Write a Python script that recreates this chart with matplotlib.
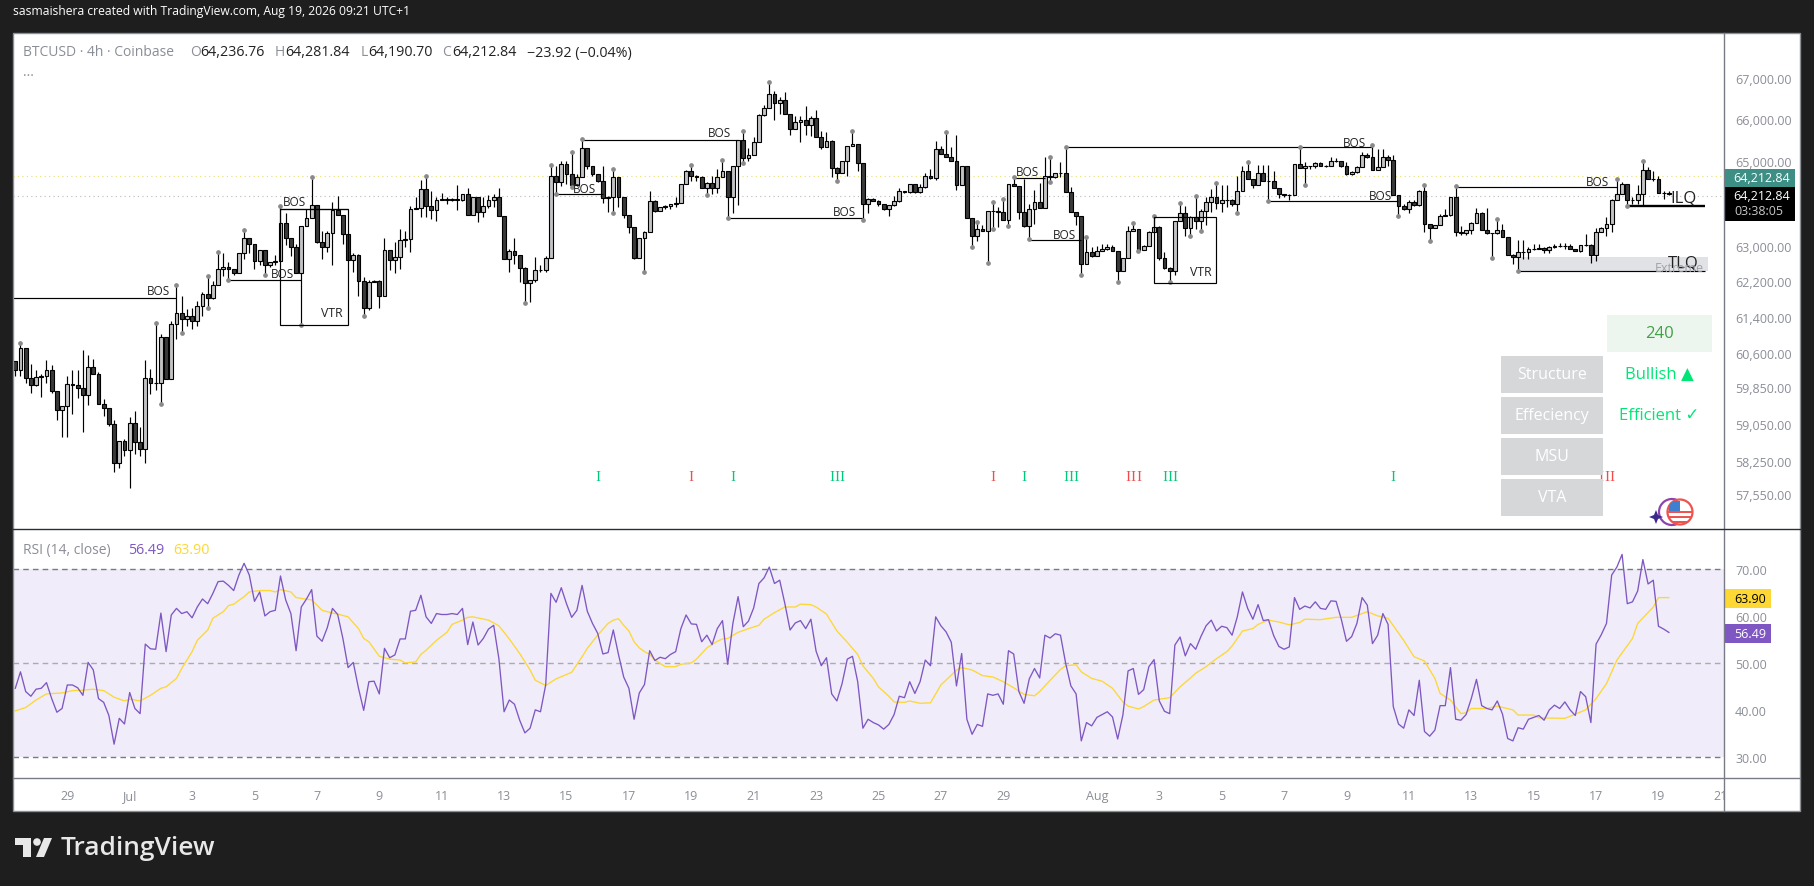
import matplotlib
matplotlib.use("Agg")
import matplotlib.pyplot as plt
from matplotlib.patches import Rectangle, Circle, Polygon, Arc

# 4h candles
first_open = 60420
closes = [
    60215, 60700, 60045, 59885, 60070, 60090, 60220, 59760, 59340, 59435,
    59905, 59900, 59820, 59665, 60290, 60135, 59480, 59390, 59045, 58215,
    58675, 58475, 59065, 58655, 58505, 60045, 59935, 59940, 60950, 60020,
    61240, 61497, 61360, 61430, 61300, 61635, 61905, 61815, 62115, 62480,
    62520, 62480, 62390, 62840, 63195, 63050, 62665, 62910, 62570, 62640,
    62660, 63540, 63195, 62985, 62390, 63470, 63660, 63960, 63100, 62985,
    63310, 63845, 63720, 63285, 62695, 62800, 62205, 61590, 62180, 62205,
    61860, 62910, 62685, 62755, 63150, 63170, 63865, 63890, 64335, 63935,
    63845, 64090, 64100, 64090, 64095, 64090, 64215, 63730, 64150, 63800,
    63935, 64090, 64150, 63705, 62705, 62895, 62800, 62505, 62160, 62225,
    62455, 62450, 62735, 64645, 64500, 64935, 64680, 64425, 64630, 65320,
    64885, 64680, 64515, 64115, 64155, 64610, 64160, 63725, 63460, 62725,
    63185, 63340, 64065, 63830, 63920, 63930, 63985, 64020, 64465, 64750,
    64650, 64630, 64370, 64490, 64370, 64630, 64765, 64160, 64885, 65505,
    65060, 65145, 65455, 66090, 66260, 66600, 66380, 66470, 66115, 65755,
    65920, 65970, 65850, 66040, 65575, 65335, 65480, 64835, 64725, 65000,
    65360, 65410, 64960, 63975, 64105, 64045, 63975, 63880, 63960, 64065,
    64280, 64270, 64445, 64255, 64395, 64655, 64585, 65295, 65175, 65105,
    64995, 64435, 64875, 63655, 63240, 63410, 63355, 63820, 63825, 63805,
    63615, 64450, 64405, 63810, 63465, 63875, 64030, 63890, 64655, 64615,
    64710, 64715, 64265, 63810, 63700, 62600, 62865, 62780, 62895, 62935,
    62980, 62895, 62440, 62735, 63355, 63395, 62920, 63010, 63330, 63450,
    62735, 62505, 62440, 63590, 63775, 63430, 63680, 63590, 63820, 64030,
    64145, 64015, 64075, 64080, 63980, 64285, 64760, 64575, 64430, 64710,
    64525, 64525, 64360, 64215, 64185, 64200, 64925, 64830, 64875, 64880,
    64945, 64875, 64880, 64995, 65000, 64875, 64695, 64735, 64850, 65130,
    65090, 64795, 64865, 65105, 65015, 64185, 63935, 63865, 64030, 63960,
    64285, 63510, 63430, 63485, 63715, 63725, 64145, 63330, 63300, 63370,
    63540, 63775, 63380, 63310, 63300, 63380, 63215, 62795, 62755, 62870,
    62875, 62940, 62945, 62970, 62920, 62985, 63000, 63010, 63015, 62940,
    62895, 63025, 63030, 62795, 63330, 63425, 63520, 64090, 64210, 64445,
    64075, 64090, 64230, 64785, 64575, 64580, 64240, 64236.76, 64212.84,
]
highs = [
    60420, 60810, 60700, 60360, 60230, 60140, 60430, 60340, 59760, 59435,
    60090, 60230, 60210, 60670, 60560, 60470, 60165, 59595, 59390, 59130,
    58675, 58725, 59195, 59335, 58980, 60450, 60250, 61260, 61015, 60950,
    61305, 62121, 61860, 61575, 61610, 61750, 61970, 62335, 62200, 62880,
    62855, 62640, 62480, 62840, 63385, 63195, 63050, 62910, 62910, 62640,
    62795, 63930, 63775, 63195, 63065, 63470, 63875, 64630, 63960, 63350,
    63350, 64030, 64170, 63720, 63285, 62855, 62830, 62310, 62235, 62235,
    62235, 63195, 62910, 63100, 63410, 63365, 63950, 64150, 64540, 64635,
    64300, 64150, 64250, 64150, 64125, 64435, 64225, 64360, 64150, 64150,
    64150, 64185, 64225, 64365, 63705, 62950, 63195, 62800, 62525, 62225,
    62755, 62565, 62780, 64905, 64890, 65000, 65000, 65215, 64685, 65520,
    65320, 64890, 64665, 64885, 64180, 64820, 64630, 64160, 63725, 63460,
    63185, 63360, 64300, 64080, 63920, 63960, 63985, 64160, 64465, 64780,
    64900, 64665, 64650, 64505, 64650, 64805, 65025, 64765, 64885, 65505,
    65720, 65320, 65560, 66120, 66340, 66895, 66690, 66525, 66650, 66115,
    66065, 66080, 66325, 66080, 66230, 65720, 65695, 65495, 64860, 65000,
    65360, 65720, 65410, 64960, 64135, 64135, 64085, 63980, 63960, 64180,
    64350, 64295, 64450, 64465, 64450, 64725, 64805, 65480, 65345, 65680,
    65325, 65620, 64875, 64875, 63655, 63565, 63485, 63820, 64030, 63915,
    64110, 64450, 64630, 64405, 64575, 63990, 64305, 64490, 65090, 65090,
    64710, 64970, 65325, 64380, 63810, 63700, 63220, 62985, 63010, 63065,
    63065, 63025, 62895, 62735, 63470, 63550, 63410, 63040, 63350, 63705,
    63470, 62870, 62530, 63590, 64015, 63935, 63705, 64165, 63875, 64145,
    64345, 64475, 64420, 64440, 64105, 64655, 64875, 64970, 64575, 64915,
    64915, 64915, 64750, 64360, 64215, 64215, 64925, 65325, 64970, 64880,
    64970, 64970, 64905, 65090, 65065, 64995, 64970, 64750, 64875, 65210,
    65190, 65390, 65285, 65285, 65130, 65130, 64185, 63990, 64070, 64070,
    64325, 64420, 63510, 63485, 63755, 63875, 64145, 64405, 63470, 63370,
    63565, 63890, 63795, 63890, 63300, 63630, 63525, 63215, 62835, 63140,
    63140, 62985, 63065, 63065, 62985, 63010, 63065, 63080, 63080, 63065,
    62950, 63040, 63295, 63065, 63425, 63450, 63680, 64105, 64575, 64495,
    64455, 64145, 64420, 64995, 64850, 64770, 64655, 64300, 64281.84,
]
lows = [
    60090, 60090, 59945, 59725, 59865, 59620, 59945, 59710, 59140, 58770,
    58770, 59255, 59615, 58865, 59450, 60135, 59480, 59225, 59000, 58015,
    58110, 58355, 57675, 58400, 58365, 58215, 59690, 59775, 59485, 60020,
    60020, 60900, 61030, 61195, 61120, 61195, 61420, 61590, 61800, 62115,
    62335, 62235, 62350, 62390, 62715, 62840, 62490, 62565, 62350, 62525,
    62565, 62665, 63025, 62780, 62390, 61210, 63470, 63660, 63080, 62715,
    62870, 62565, 63720, 63065, 62695, 62410, 61875, 61420, 61565, 62180,
    61600, 61860, 62450, 62385, 62475, 62985, 62870, 63865, 63680, 63680,
    63640, 63580, 64085, 63990, 64055, 63835, 64055, 63730, 63730, 63560,
    63680, 63890, 63915, 63705, 62705, 62425, 62600, 62180, 61715, 61725,
    62180, 62425, 62410, 62735, 64225, 64410, 64450, 64395, 64410, 64630,
    64805, 64650, 64505, 64000, 63805, 63765, 63905, 63670, 63305, 62710,
    62725, 62420, 63340, 63800, 63825, 63880, 63880, 63905, 64005, 64450,
    64520, 64530, 64370, 64190, 64215, 64240, 64630, 63655, 63785, 63965,
    64940, 65000, 65145, 65455, 66080, 66260, 65985, 66120, 66115, 65630,
    65755, 65455, 65615, 65600, 65575, 65280, 65335, 64610, 64520, 64725,
    64650, 65360, 64750, 63610, 63785, 64045, 63940, 63850, 63710, 63940,
    64035, 64240, 64240, 64240, 64240, 64370, 64565, 64545, 65160, 65105,
    64995, 64325, 64435, 63655, 62980, 63130, 63355, 62620, 63395, 63450,
    63610, 63470, 64405, 63625, 63450, 63170, 63525, 63890, 63890, 64495,
    64590, 64615, 64265, 63810, 63485, 62340, 62600, 62755, 62770, 62885,
    62925, 62885, 62190, 62440, 62735, 63350, 62885, 62920, 63010, 63330,
    62695, 62490, 62180, 62340, 63590, 63235, 63235, 63410, 63355, 63485,
    63810, 63875, 63810, 63915, 63935, 63780, 64285, 64575, 64360, 64420,
    64525, 64045, 64360, 64120, 64155, 64070, 64215, 64830, 64435, 64815,
    64830, 64875, 64860, 64875, 64970, 64850, 64670, 64670, 64720, 64850,
    65065, 64795, 64795, 64865, 64890, 64185, 63705, 63835, 63780, 63935,
    63935, 63330, 63125, 63425, 63485, 63700, 63700, 63235, 63270, 63270,
    63285, 63540, 63380, 63285, 62740, 63295, 63215, 62795, 62590, 62430,
    62720, 62705, 62915, 62935, 62860, 62845, 62970, 62985, 62950, 62935,
    62885, 62880, 63010, 62620, 62665, 63330, 63235, 63330, 64090, 64210,
    63950, 63990, 63990, 63950, 64575, 64535, 64240, 64105, 64190.70,
]

# bars with a swing dot on the high / on the low
swing_high_bars = [1, 27, 31, 37, 39, 44, 51, 57, 79, 103, 107, 109, 115, 130, 136, 140, 145,
                   161, 179, 185, 188, 190, 192, 199, 202, 206, 215, 219, 224, 227, 231, 237,
                   247, 261, 271, 277, 285, 308, 313]
swing_low_bars = [28, 32, 37, 41, 48, 55, 67, 98, 104, 107, 115, 121, 133, 137, 140, 158, 163,
                  184, 187, 188, 191, 195, 199, 205, 212, 216, 222, 226, 228, 235, 241, 248,
                  266, 272, 284, 289, 310]

# structure lines: start bar, end bar, price
line_starts = [-1, 41, 51, 109, 104, 137, 192, 195, 202, 241, 277]
line_ends = [31, 55, 64, 139, 113, 163, 198, 205, 261, 266, 308]
line_prices = [61820, 62234, 63860, 65505, 64215, 63655, 64605, 63155, 65325, 64055, 64380]

# BOS labels: bar, price
bos_bars = [27.6, 51.4, 53.6, 135.5, 109.5, 159.5, 194.7, 201.7, 257.6, 262.6, 304.3]
bos_prices = [61985, 62390, 64055, 65690, 64360, 63820, 64760, 63265, 65445, 64190, 64525]

# VTR boxes
vtr_left = [51, 219]
vtr_right = [64, 231]
vtr_top = [63860, 63680]
vtr_bottom = [61218, 62165]
vtr_label_bars = [60.9, 228]
vtr_label_prices = [61490, 62420]

ilq_start, ilq_end, ilq_price = 310, 325, 63950
tlq_start, tlq_end, tlq_price = 289, 325, 62438
extreme_top = 62767

signal_bars_green = [112, 138, 157, 158, 159, 194, 202, 203, 204, 221, 222, 223, 265]
signal_bars_red = [130, 188, 214, 215, 216, 305, 306, 307]
signal_price = 57920

last_price_dotted = 64165
other_dotted = 64640

price_ticks = [67000, 66000, 65000, 63000, 62200, 61400, 60600, 59850, 59050, 58250, 57550]
rsi_ticks = [70, 60, 50, 40, 30]
date_bars = [10, 22, 34, 46, 58, 70, 82, 94, 106, 118, 130, 142, 154, 166, 178, 190, 208, 220,
             232, 244, 256, 268, 280, 292, 304, 316, 328]
date_labels = ["29", "Jul", "3", "5", "7", "9", "11", "13", "15", "17", "19", "21", "23", "25",
               "27", "29", "Aug", "3", "5", "7", "9", "11", "13", "15", "17", "19", "21"]

rsi = [
    44.6, 48.1, 43.9, 42.9, 44.4, 44.6, 45.8, 42.4, 39.5, 40.3,
    45.3, 45.3, 44.7, 43.1, 50.1, 48.5, 42.4, 41.6, 38.8, 32.7,
    38.2, 37.0, 43.7, 40.3, 39.2, 54.0, 53.0, 52.9, 60.6, 52.4,
    60.2, 61.6, 60.5, 60.9, 59.6, 61.9, 63.6, 62.6, 64.8, 67.3,
    67.4, 66.5, 65.4, 68.7, 71.2, 68.7, 63.1, 65.1, 60.0, 60.9,
    61.2, 68.5, 63.4, 60.5, 52.6, 61.9, 63.6, 65.6, 55.7, 54.6,
    57.5, 61.6, 60.3, 55.2, 49.0, 50.1, 44.6, 39.9, 46.0, 46.1,
    43.4, 53.1, 51.1, 51.7, 55.1, 55.1, 61.0, 61.2, 64.4, 59.8,
    58.4, 60.5, 60.3, 60.3, 60.5, 60.3, 61.6, 53.9, 58.7, 53.8,
    55.2, 57.2, 58.0, 50.9, 39.6, 42.1, 41.2, 37.8, 35.1, 36.1,
    40.0, 39.6, 45.3, 64.8, 62.9, 66.0, 62.6, 59.7, 61.2, 66.5,
    61.0, 58.4, 56.3, 51.9, 52.2, 57.0, 51.8, 47.0, 44.6, 38.0,
    43.6, 45.4, 52.6, 50.5, 51.2, 50.9, 51.8, 52.4, 57.3, 60.2,
    58.3, 58.2, 54.5, 55.9, 53.9, 57.3, 59.0, 49.7, 58.4, 64.1,
    57.7, 58.9, 61.7, 66.9, 68.1, 70.4, 66.9, 67.6, 62.6, 57.0,
    58.5, 59.0, 57.3, 59.3, 52.5, 49.4, 51.1, 43.4, 41.9, 45.6,
    50.8, 51.4, 46.0, 36.1, 38.0, 37.3, 36.8, 35.9, 36.9, 39.0,
    42.9, 42.6, 46.0, 43.5, 46.0, 50.6, 49.4, 59.8, 57.9, 56.6,
    54.4, 45.1, 52.0, 38.0, 34.8, 36.9, 36.5, 43.4, 43.1, 43.4,
    41.2, 52.6, 51.9, 43.9, 41.4, 46.6, 48.8, 46.8, 55.9, 55.3,
    56.2, 55.9, 49.9, 45.1, 43.4, 33.4, 37.3, 36.6, 38.4, 39.0,
    39.6, 38.5, 33.8, 38.9, 48.3, 48.8, 43.3, 44.3, 49.2, 50.7,
    41.9, 39.7, 39.2, 53.8, 55.5, 51.5, 54.1, 52.9, 55.6, 57.9,
    59.1, 56.8, 57.8, 57.5, 55.9, 59.8, 65.1, 61.6, 59.3, 62.4,
    59.0, 59.2, 55.8, 53.5, 52.9, 53.4, 63.9, 61.4, 62.1, 61.7,
    63.0, 61.6, 61.4, 63.2, 63.1, 59.3, 54.6, 55.6, 58.4, 63.9,
    62.3, 54.1, 55.9, 60.5, 58.2, 40.7, 37.0, 36.1, 40.0, 38.8,
    46.3, 35.4, 34.4, 35.7, 40.9, 40.9, 49.0, 38.0, 37.8, 39.0,
    42.4, 46.5, 40.9, 40.3, 40.0, 41.9, 39.1, 33.9, 33.4, 36.2,
    35.9, 38.0, 38.4, 38.8, 37.8, 40.0, 41.0, 40.3, 41.7, 40.0,
    38.8, 43.9, 42.8, 37.3, 54.0, 56.0, 58.4, 68.7, 70.4, 73.1,
    62.6, 63.0, 65.3, 72.0, 66.8, 67.6, 57.8, 57.2, 56.49,
]

# yellow smoothing line, read at its visible vertices
rsi_ma_bars = [
    0, 2, 4, 6, 9, 11, 13, 15, 17, 19, 21, 22, 24, 26, 28, 29, 31, 32, 34, 35,
    37, 38, 40, 41, 42, 44, 45, 47, 49, 50, 51, 53, 54, 57, 59, 61, 62, 64, 66, 67,
    68, 70, 72, 74, 75, 77, 78, 79, 81, 83, 84, 86, 87, 88, 91, 93, 95, 97, 99, 100,
    102, 104, 107, 109, 110, 112, 114, 115, 116, 117, 118, 119, 120, 121, 122, 123, 124, 125, 127, 128,
    130, 131, 132, 133, 135, 136, 137, 139, 141, 143, 144, 146, 148, 150, 151, 153, 154, 156, 158, 160,
    162, 163, 165, 166, 168, 169, 171, 172, 174, 176, 177, 178, 180, 181, 182, 184, 186, 188, 190, 192,
    194, 196, 197, 199, 201, 202, 204, 205, 207, 209, 211, 213, 214, 216, 217, 219, 222, 224, 226, 227,
    229, 231, 233, 234, 236, 238, 239, 241, 243, 245, 247, 248, 251, 254, 257, 260, 262, 264, 267, 269,
    271, 273, 274, 276, 278, 279, 280, 283, 285, 288, 289, 292, 293, 298, 300, 302, 304, 306, 308, 311,
    312, 315, 316, 318,
]
rsi_ma = [
    39.8, 40.5, 42.1, 43.4, 43.6, 44.1, 44.2, 44.4, 44.1, 42.7, 41.9, 42.3, 41.9, 43.1, 44.6, 44.9, 46.7, 48.8, 52.4, 54.8,
    57.0, 59.5, 60.9, 62.2, 62.5, 64.1, 65.1, 65.4, 65.4, 65.1, 65.6, 65.1, 63.9, 63.4, 61.2, 60.6, 60.4, 59.8, 57.3, 55.2,
    54.5, 51.4, 50.8, 50.6, 50.0, 50.2, 51.8, 52.7, 54.8, 56.5, 58.2, 59.1, 59.7, 59.8, 59.1, 57.9, 55.1, 52.0, 48.5, 46.3,
    45.2, 46.6, 48.0, 51.3, 53.1, 55.9, 58.4, 59.1, 59.4, 58.0, 56.8, 54.5, 53.2, 52.4, 51.8, 50.6, 49.9, 49.2, 49.2, 49.7,
    50.0, 50.8, 52.0, 53.2, 54.6, 55.1, 55.2, 56.5, 57.3, 58.0, 59.3, 60.7, 61.9, 61.9, 62.5, 62.4, 61.9, 60.4, 56.8, 54.4,
    51.8, 49.4, 46.7, 44.9, 42.9, 41.7, 41.6, 41.9, 41.4, 41.5, 43.4, 45.3, 47.4, 48.5, 49.0, 48.5, 47.3, 47.0, 46.0, 44.7,
    43.3, 43.0, 43.9, 46.3, 48.6, 49.4, 49.6, 48.1, 46.7, 46.1, 44.6, 41.7, 40.8, 40.2, 40.7, 42.1, 42.6, 44.9, 46.8, 47.8,
    49.2, 50.9, 52.4, 53.6, 56.8, 57.3, 58.2, 59.1, 58.7, 58.1, 58.6, 59.3, 59.2, 59.7, 59.7, 60.9, 60.0, 59.5, 54.8, 51.3,
    50.4, 46.7, 43.5, 42.1, 39.2, 39.4, 40.3, 40.3, 40.8, 40.0, 38.9, 38.9, 38.3, 38.2, 39.1, 40.0, 42.4, 45.6, 50.6, 55.2,
    58.4, 61.9, 63.9, 63.90,
]

W, H = 1814, 887
FONT = "Open Sans"
plt.rcParams["font.family"] = FONT
BG = "#1e1e1e"
GRAY = "#8b8e97"
UP = "#c3c3c6"
DOWN = "#3a3a3a"
PURPLE = "#7e57c2"
YELLOW = "#fdd835"
TEAL = "#3d8f85"
GREEN = "#00e676"


def px_axes(left, top, right, bottom):
    return [left / W, 1 - bottom / H, (right - left) / W, (bottom - top) / H]


def draw_candles(ax):
    bars = list(range(len(closes)))
    opens = [first_open] + closes[:-1]
    ax.vlines(bars, lows, highs, color="black", lw=0.85, zorder=2)
    colors = [UP if c >= o else DOWN for o, c in zip(opens, closes)]
    heights = [abs(c - o) for o, c in zip(opens, closes)]
    bottoms = [min(o, c) for o, c in zip(opens, closes)]
    ax.bar(bars, heights, bottom=bottoms, width=0.74, color=colors, edgecolor="black",
           linewidth=0.8, zorder=3)
    ax.plot(swing_high_bars, [highs[b] for b in swing_high_bars], "o", ms=2.4, color="#8a8a8a", zorder=4)
    ax.plot(swing_low_bars, [lows[b] for b in swing_low_bars], "o", ms=2.4, color="#8a8a8a", zorder=4)


def draw_structure(ax):
    ax.hlines(line_prices, line_starts, line_ends, color="black", lw=0.85, zorder=3)
    for b, p in zip(bos_bars, bos_prices):
        ax.text(b, p, "BOS", fontsize=8.5, ha="center", va="center", color="#222222", zorder=5)
    for l, r, t, bt in zip(vtr_left, vtr_right, vtr_top, vtr_bottom):
        ax.add_patch(Rectangle((l, bt), r - l, t - bt, fill=False, ec="black", lw=0.85, zorder=4))
    for b, p in zip(vtr_label_bars, vtr_label_prices):
        ax.text(b, p, "VTR", fontsize=8.8, ha="center", va="center", color="#222222", zorder=5)
    ax.add_patch(Rectangle((tlq_start, tlq_price), tlq_end + 0.5 - tlq_start, extreme_top - tlq_price,
                           color="#e1e2e5", lw=0, zorder=1))
    ax.hlines(ilq_price, ilq_start, ilq_end, color="black", lw=1.7, zorder=3)
    ax.hlines(tlq_price, tlq_start, tlq_end, color="black", lw=0.85, zorder=3)
    ax.text(320.8, 64130, "ILQ", fontsize=12, ha="center", va="center", color="#222222", zorder=5)
    ax.text(320.8, 62640, "TLQ", fontsize=12, ha="center", va="center", color="#222222", zorder=5)
    ax.text(320, 62510, "Extreme", fontsize=9, ha="center", va="center", color="#a0a2a8", zorder=5)
    ax.axhline(last_price_dotted, color="#b8bac0", lw=0.8, ls=(0, (1, 3)), zorder=0)
    ax.axhline(other_dotted, color="#e8e070", lw=0.8, ls=(0, (1, 3)), zorder=0)
    for b in signal_bars_green:
        ax.text(b, signal_price, "I", fontsize=11, family="Liberation Serif", color="#00c87a",
                ha="center", va="center")
    for b in signal_bars_red:
        ax.text(b, signal_price, "I", fontsize=11, family="Liberation Serif", color="#f44a4a",
                ha="center", va="center")


def draw_chrome(ov):
    # right scale gutter and clipped date label
    ov.add_patch(Rectangle((1724, 779), 76, 33, color="white", lw=0))
    ov.plot([1724, 1724], [34, 812], color="#787b86", lw=1.0)
    ov.plot([13, 1800], [530, 530], color="#2a2e39", lw=1.0)
    ov.plot([13, 1800], [779, 779], color="#787b86", lw=1.0)
    ov.add_patch(Rectangle((13, 34), 1787, 778, fill=False, ec="#8d8f96", lw=1.0))

    ov.text(13, 12, "sasmaishera created with TradingView.com, Aug 19, 2026 09:21 UTC+1",
            color="white", fontsize=8.7, va="center")

    header = [(23, "BTCUSD · 4h · Coinbase", GRAY, 10), (190, "O", GRAY, 10), (200, "64,236.76", "#222222", 10.3),
              (275, "H", GRAY, 10), (285, "64,281.84", "#222222", 10.3), (361, "L", GRAY, 10),
              (368, "64,190.70", "#222222", 10.3), (442, "C", GRAY, 10), (452, "64,212.84", "#222222", 10.3),
              (527, "−23.92 (−0.04%)", "#222222", 10.3)]
    for x, s, c, fs in header:
        ov.text(x, 53, s, color=c, fontsize=fs, va="center")
    ov.text(23, 76, "···", color=GRAY, fontsize=10, va="center")

    ov.text(23, 551, "RSI (14, close)", color=GRAY, fontsize=10, va="center")
    ov.text(128, 551, "56.49", color=PURPLE, fontsize=10.3, va="center")
    ov.text(173, 551, "63.90", color=YELLOW, fontsize=10.3, va="center")

    # price labels on the scale
    ov.add_patch(Rectangle((1724, 170), 71, 18, color=TEAL, lw=0))
    ov.text(1762, 179, "64,212.84", color="white", fontsize=9, ha="center", va="center")
    ov.add_patch(Rectangle((1724, 188), 71, 34, color="black", lw=0))
    ov.text(1762, 197, "64,212.84", color="white", fontsize=9, ha="center", va="center")
    ov.text(1759, 212, "03:38:05", color="#c8c8c8", fontsize=9, ha="center", va="center")
    ov.add_patch(Rectangle((1724, 590), 47, 19, color=YELLOW, lw=0))
    ov.text(1750, 600, "63.90", color="black", fontsize=9, ha="center", va="center")
    ov.add_patch(Rectangle((1724, 625), 47, 19, color=PURPLE, lw=0))
    ov.text(1750, 635, "56.49", color="white", fontsize=9, ha="center", va="center")

    # status table
    ov.add_patch(Rectangle((1607, 316), 105, 37, color="#edf6ee", lw=0))
    ov.text(1660, 334, "240", color="#43a047", fontsize=12, ha="center", va="center")
    rows = ["Structure", "Effeciency", "MSU", "VTA"]
    for k, s in enumerate(rows):
        top = 357 + k * 41
        ov.add_patch(Rectangle((1501, top), 102, 37, color="#d6d7d9", lw=0))
        ov.text(1552, top + 18, s, color="white", fontsize=11.5, ha="center", va="center")
    ov.text(1659, 375, "Bullish ▲", color=GREEN, fontsize=12, ha="center", va="center",
            family=[FONT, "DejaVu Sans"])
    ov.text(1659, 416, "Efficient ✓", color=GREEN, fontsize=12, ha="center", va="center",
            family=[FONT, "DejaVu Sans"])

    # small flag badge
    ov.add_patch(Arc((1672, 513), 26, 26, theta1=70, theta2=290, color="#8e44ad", lw=1.6))
    ov.add_patch(Polygon([(1649, 518), (1654, 516), (1656, 511), (1658, 516), (1663, 518),
                          (1658, 520), (1656, 525), (1654, 520)], color="#3b2a8c", lw=0))
    badge = Circle((1680, 513), 12.5, fc="white", ec="#ef5350", lw=1.6)
    ov.add_patch(badge)
    for y in (512, 517, 522):
        stripe = Rectangle((1668, y), 24, 2.4, color="#ef5350", lw=0)
        ov.add_patch(stripe)
        stripe.set_clip_path(badge)
    canton = Rectangle((1669, 502), 11, 10, color="#3f7fd0", lw=0)
    ov.add_patch(canton)
    canton.set_clip_path(badge)

    # TradingView wordmark
    ov.add_patch(Rectangle((15, 839), 16, 7, color="#e8e8e8", lw=0))
    ov.add_patch(Rectangle((23, 839), 8, 19, color="#e8e8e8", lw=0))
    ov.add_patch(Circle((37, 843), 3.8, color="#e8e8e8", lw=0))
    ov.add_patch(Polygon([(44, 839), (52, 839), (44, 858), (36, 858)], color="#e8e8e8", lw=0))
    ov.text(61, 849, "TradingView", color="#e8e8e8", fontsize=19, fontweight="semibold", va="center")


fig = plt.figure(figsize=(W / 100, H / 100), dpi=100, facecolor=BG)

# white backing for the scale and date strips
back = fig.add_axes(px_axes(13, 34, 1800, 812), facecolor="white")
back.set_xticks([])
back.set_yticks([])
for s in back.spines.values():
    s.set_visible(False)

ax = fig.add_axes(px_axes(13, 34, 1724, 530), facecolor="white")
ax.set_yscale("log")
draw_candles(ax)
draw_structure(ax)
ax.set_xlim(-0.44, 328.6)
ax.set_ylim(56821, 68111)
ax.set_xticks([])
ax.yaxis.tick_right()
ax.set_yticks(price_ticks, [f"{p:,.2f}" for p in price_ticks])
ax.minorticks_off()
ax.tick_params(axis="y", length=0, pad=8, labelsize=9, labelcolor=GRAY)
for s in ax.spines.values():
    s.set_visible(False)

rax = fig.add_axes(px_axes(13, 530, 1724, 779), facecolor="white")
rax.axhspan(30, 70, color="#f0ecf9", lw=0, zorder=0)
for lvl, col in ((70, "#787b86"), (50, "#a9abb3"), (30, "#787b86")):
    rax.axhline(lvl, color=col, lw=1.0, ls=(0, (4, 3)), zorder=1)
rax.plot(range(len(rsi)), rsi, color=PURPLE, lw=0.95, zorder=3)
rax.plot(rsi_ma_bars, rsi_ma, color=YELLOW, lw=0.95, zorder=2)
rax.set_xlim(-0.44, 328.6)
rax.set_ylim(25.5, 78.5)
rax.yaxis.tick_right()
rax.set_yticks(rsi_ticks, [f"{v:.2f}" for v in rsi_ticks])
rax.set_xticks(date_bars, date_labels)
rax.tick_params(axis="y", length=0, pad=8, labelsize=9, labelcolor=GRAY)
rax.tick_params(axis="x", length=0, pad=8, labelsize=9, labelcolor=GRAY)
for s in rax.spines.values():
    s.set_visible(False)

ov = fig.add_axes([0, 0, 1, 1], zorder=10)
ov.set_xlim(0, W)
ov.set_ylim(H, 0)
ov.axis("off")
draw_chrome(ov)

fig.savefig("out.png", dpi=100, facecolor=BG)
